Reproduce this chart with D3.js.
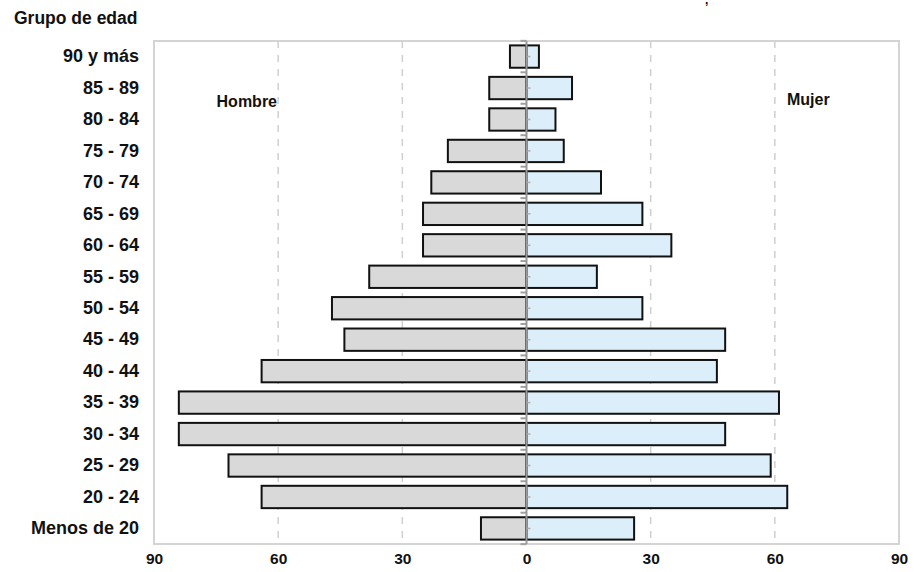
<!DOCTYPE html>
<html><head><meta charset="utf-8">
<script src="https://cdn.jsdelivr.net/npm/d3@7"></script>
<style>body{margin:0;background:#fff}svg{display:block;font-family:"Liberation Sans",Arial,sans-serif}</style>
</head><body><svg id="c" width="914" height="572"></svg>
<script>
const categories = ["90 y más","85 - 89","80 - 84","75 - 79","70 - 74","65 - 69","60 - 64","55 - 59","50 - 54","45 - 49","40 - 44","35 - 39","30 - 34","25 - 29","20 - 24","Menos de 20"];
const hombres = [4, 9, 9, 19, 23, 25, 25, 38, 47, 44, 64, 84, 84, 72, 64, 11];
const mujeres = [3, 11, 7, 9, 18, 28, 35, 17, 28, 48, 46, 61, 48, 59, 63, 26];
const tickValues = [-90, -60, -30, 0, 30, 60, 90];
const seriesNames = ["Hombre", "Mujer"];
const yTitle = "Grupo de edad";

const svg = d3.select("#c");
const L = 154, R = 899, T = 41, B = 544;
const x = d3.scaleLinear().domain([-90, 90]).range([L, R]);
const y = d3.scaleBand().domain(categories).range([T, B]).paddingInner(0.29).paddingOuter(0.14);

// frame
svg.append("rect").attr("x", L).attr("y", T).attr("width", R - L).attr("height", B - T)
  .attr("fill", "none").attr("stroke", "#d4d4d4").attr("stroke-width", 2);

// grid
svg.append("g").selectAll("line").data(tickValues.filter(v => v !== 0 && Math.abs(v) !== 90)).join("line")
  .attr("x1", d => x(d)).attr("x2", d => x(d)).attr("y1", T).attr("y2", B)
  .attr("stroke", "#cfcfcf").attr("stroke-width", 1.5).attr("stroke-dasharray", "7,7");

// bars
const rows = categories.map((c, i) => ({c, h: hombres[i], m: mujeres[i]}));
svg.append("g").selectAll("rect").data(rows).join("rect")
  .attr("x", d => x(-d.h)).attr("y", d => y(d.c)).attr("width", d => x(0) - x(-d.h)).attr("height", y.bandwidth())
  .attr("fill", "#d9d9d9").attr("stroke", "#111").attr("stroke-width", 2);
svg.append("g").selectAll("rect").data(rows).join("rect")
  .attr("x", x(0)).attr("y", d => y(d.c)).attr("width", d => x(d.m) - x(0)).attr("height", y.bandwidth())
  .attr("fill", "#dbeef9").attr("stroke", "#111").attr("stroke-width", 2);

// zero axis with ticks
const zx = x(0);
const step = y.step();
const bounds = d3.range(categories.length + 1).map(i => T + y.paddingOuter() * step - y.paddingInner() * step / 2 + i * step);
svg.append("g").selectAll("line").data(bounds).join("line")
  .attr("x1", zx - 6).attr("x2", zx).attr("y1", d => d).attr("y2", d => d)
  .attr("stroke", "#a0a0a0").attr("stroke-width", 2);
svg.append("g").selectAll("line").data(categories).join("line")
  .attr("x1", zx).attr("x2", zx + 4).attr("y1", d => y(d) + y.bandwidth() / 2).attr("y2", d => y(d) + y.bandwidth() / 2)
  .attr("stroke", "#b0b0b0").attr("stroke-width", 1.5);
svg.append("line").attr("x1", zx).attr("x2", zx).attr("y1", T).attr("y2", B)
  .attr("stroke", "#999").attr("stroke-width", 2);

// x axis
const xAxis = d3.axisBottom(x).tickValues(tickValues).tickFormat(d => Math.abs(d)).tickSize(0).tickPadding(9);
const gx = svg.append("g").attr("transform", `translate(0,${B})`).call(xAxis);
gx.select(".domain").remove();
gx.selectAll("text").attr("font-size", 15.5).attr("font-weight", "bold").attr("fill", "#111")
  .attr("font-family", '"Liberation Sans",Arial,sans-serif');

// y axis labels
const yAxis = d3.axisLeft(y).tickSize(0).tickPadding(0);
const gy = svg.append("g").attr("transform", `translate(139,0)`).call(yAxis);
gy.select(".domain").remove();
gy.selectAll("text").attr("font-size", 18).attr("font-weight", "bold").attr("fill", "#111")
  .attr("font-family", '"Liberation Sans",Arial,sans-serif');

// titles
svg.append("text").attr("x", 14).attr("y", 24).text(yTitle)
  .attr("font-size", 17.5).attr("font-weight", "bold").attr("fill", "#111");
svg.append("text").attr("x", 277).attr("y", 107).attr("text-anchor", "end").text(seriesNames[0])
  .attr("font-size", 16).attr("font-weight", "bold").attr("fill", "#111");
svg.append("text").attr("x", 787).attr("y", 105).text(seriesNames[1])
  .attr("font-size", 16).attr("font-weight", "bold").attr("fill", "#111");
svg.append("text").attr("x", 705).attr("y", 4).text(",")
  .attr("font-size", 12).attr("font-weight", "bold").attr("fill", "#111");
</script></body></html>
